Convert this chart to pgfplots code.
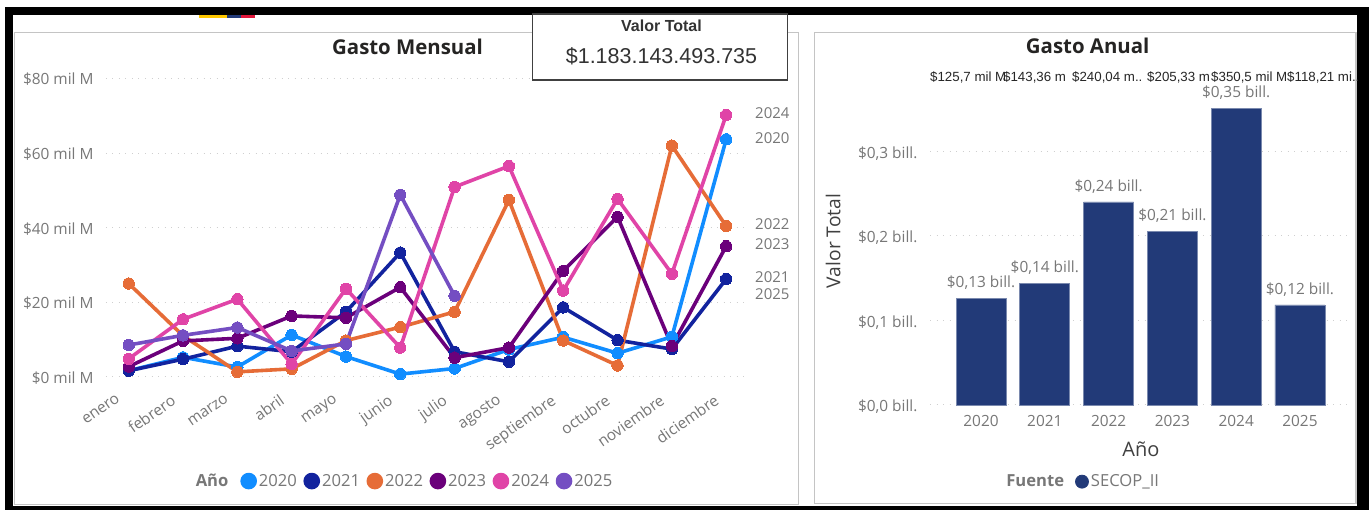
\documentclass[border=0pt]{standalone}
\usepackage{pgfplots}
\pgfplotsset{compat=1.18}
\usepackage{fontspec}
\setmainfont{Open Sans}
\newfontfamily\arial{Liberation Sans}
\definecolor{c20}{HTML}{118DFF}
\definecolor{c21}{HTML}{12239E}
\definecolor{c22}{HTML}{E66C37}
\definecolor{c23}{HTML}{6B007B}
\definecolor{c24}{HTML}{E044A7}
\definecolor{c25}{HTML}{744EC2}
\definecolor{barblue}{HTML}{223A78}
\definecolor{flagy}{HTML}{FFC800}
\definecolor{flagr}{HTML}{E0163A}
\definecolor{ticktxt}{HTML}{777777}
\definecolor{titletxt}{HTML}{252423}
\definecolor{panel}{HTML}{C4C4C4}
\definecolor{griddot}{HTML}{CFCFCF}
\newcommand{\fs}[1]{\fontsize{#1}{#1}\selectfont}
\pgfplotsset{
  pbi/.style={
    scale only axis, clip=false,
    axis line style={draw=none},
    tick style={draw=none},
    major tick length=0pt,
    ymajorgrids,
    grid style={griddot, line width=1pt, dash pattern=on 1pt off 5.5pt},
    tick label style={font=\fs{15.4}, color=ticktxt},
    title style={font=\fs{20.4}\bfseries, color=titletxt, anchor=center},
    legend style={draw=none, fill=none, font=\fs{16.6}, text=ticktxt, legend columns=-1},
  },
  ser/.style={color=#1, line width=3.6pt, line join=round, mark=*, mark size=5.7pt,
    mark options={fill=#1, draw=#1, line width=0pt},
    legend image code/.code={\fill[#1] (0.15cm,0) circle (6.5pt);}},
}
\begin{document}
\begin{tikzpicture}
\useasboundingbox (0pt,0pt) rectangle (1369pt,-510pt);
% screenshot frame
\begin{scope}[x=1pt,y=-1pt]
\fill[white] (0,0) rectangle (1369,510);
\fill[black] (5,7) rectangle (1369,15);
\fill[black] (5,7) rectangle (13,510);
\fill[black] (1357,7) rectangle (1369,510);
\fill[black] (5,506) rectangle (1369,510);
\fill[flagy] (199,15) rectangle (227,18.5);
\fill[barblue] (227,15) rectangle (241,18.5);
\fill[flagr] (241,15) rectangle (255,18.5);
\draw[panel, line width=1.5pt] (14.5,32.5) rectangle (798.5,504.5);
\draw[panel, line width=1.5pt] (814.5,32.5) rectangle (1356,503.5);
\end{scope}

\begin{axis}[pbi,
  at={(106pt,-376.7pt)}, anchor=south west,
  width=643pt, height=298.2pt,
  xmin=-0.418, xmax=11.42, ymin=0, ymax=80,
  ytick={0,20,40,60,80},
  yticklabels={\$0 mil M,\$20 mil M,\$40 mil M,\$60 mil M,\$80 mil M},
  xtick={0,1,2,3,4,5,6,7,8,9,10,11},
  xticklabels={enero,febrero,marzo,abril,mayo,junio,julio,agosto,septiembre,octubre,noviembre,diciembre},
  x tick label style={rotate=35, anchor=north east, xshift=-17pt, yshift=-3pt},
  y tick label style={xshift=-9pt, yshift=-1pt},
  title={Gasto Mensual}, title style={at={(0.469,1.0855)}},
  legend style={at={(0.1315,-0.35)}, anchor=west,
    /tikz/every even column/.append style={column sep=4.5pt}},
]
\addlegendimage{empty legend}
\addlegendentry{\textbf{Año}\hspace*{5.5pt}}
\addplot[ser=c20] coordinates {(0,1.6) (1,5.2) (2,2.6) (3,11.2) (4,5.4) (5,0.7) (6,2.2) (7,7.3) (8,10.6) (9,6.3) (10,10.7) (11,63.7)};
\addlegendentry{2020}
\addplot[ser=c21] coordinates {(0,1.6) (1,4.7) (2,8.2) (3,6.7) (4,17.4) (5,33.3) (6,6.7) (7,4.0) (8,18.6) (9,9.8) (10,7.4) (11,26.2)};
\addlegendentry{2021}
\addplot[ser=c22] coordinates {(0,25) (1,11) (2,1.3) (3,2.1) (4,9.7) (5,13.3) (6,17.4) (7,47.4) (8,9.7) (9,3) (10,62) (11,40.4)};
\addlegendentry{2022}
\addplot[ser=c23] coordinates {(0,2.7) (1,9.6) (2,10.3) (3,16.3) (4,15.8) (5,24) (6,5.1) (7,7.8) (8,28.4) (9,42.9) (10,8.2) (11,35)};
\addlegendentry{2023}
\addplot[ser=c24] coordinates {(0,4.8) (1,15.4) (2,20.8) (3,3.4) (4,23.6) (5,7.8) (6,50.9) (7,56.5) (8,23.1) (9,47.7) (10,27.6) (11,70.2)};
\addlegendentry{2024}
\addplot[ser=c25] coordinates {(0,8.5) (1,11.1) (2,13.2) (3,6.9) (4,8.8) (5,48.8) (6,21.7)};
\addlegendentry{2025}
\end{axis}

% end-of-line year labels and card
\begin{scope}[x=1pt,y=-1pt]
\begin{scope}[every node/.style={anchor=west, inner sep=0pt, font=\fs{15}, text=ticktxt}]
\node at (755,113) {2024};
\node at (755,138) {2020};
\node at (755,224) {2022};
\node at (755,244) {2023};
\node at (755,277) {2021};
\node at (755,294) {2025};
\end{scope}
\draw[fill=white, draw=black!75, line width=1.8pt] (532.5,14) rectangle (787.5,80);
\node[font=\arial\fs{16}\bfseries, text=black!80] at (661.5,25.5) {Valor Total};
\node[font=\arial\fs{21.5}, text=black!80] at (661.5,56) {\$1.183.143.493.735};
\end{scope}

\begin{axis}[pbi,
  at={(930pt,-405pt)}, anchor=south west,
  width=421pt, height=338.4pt,
  xmin=-0.8, xmax=5.8, ymin=0, ymax=0.4,
  ytick={0,0.1,0.2,0.3},
  yticklabels={{\$0,0 bill.},{\$0,1 bill.},{\$0,2 bill.},{\$0,3 bill.}},
  xtick={0,1,2,3,4,5},
  xticklabels={2020,2021,2022,2023,2024,2025},
  y tick label style={xshift=-9pt, yshift=-2pt},
  x tick label style={yshift=-7pt},
  title={Gasto Anual}, title style={at={(0.3745,1.043)}},
  xlabel={Año}, xlabel style={at={(axis description cs:0.501,-0.13)}, anchor=center, font=\fs{20}, color=black!75},
  ylabel={Valor Total}, ylabel style={at={(axis description cs:-0.23,0.4846)}, anchor=center, font=\fs{19.2}, color=black!75},
  legend style={at={(0.169,-0.2265)}, anchor=west,
    /tikz/every even column/.append style={column sep=9pt}},
]
\addlegendimage{empty legend}
\addlegendentry{\textbf{Fuente}}
\addplot[ybar, bar width=50pt, bar shift=0pt, fill=barblue, draw=barblue!60!white, line width=0.8pt,
  legend image code/.code={\fill[barblue] (0.15cm,0) circle (6.5pt);},
  point meta=explicit symbolic, nodes near coords,
  every node near coord/.append style={font=\fs{15.4}, color=ticktxt, anchor=south, yshift=5pt}]
  coordinates {
    (0,0.1257) [{\$0,13 bill.}]
    (1,0.14336) [{\$0,14 bill.}]
    (2,0.24004) [{\$0,24 bill.}]
    (3,0.20533) [{\$0,21 bill.}]
    (4,0.3505) [{\$0,35 bill.}]
    (5,0.11821) [{\$0,12 bill.}]
  };
\addlegendentry{SECOP\_II}
\end{axis}

% overlapping labels kept from the source report
\begin{scope}[x=1pt,y=-1pt,every node/.style={anchor=west, inner sep=0pt, font=\arial\fs{13.3}, text=black!85}]
\node at (930,77) {\$125,7 mil M};
\node at (1003,77) {\$143,36 m};
\node at (1072,77) {\$240,04 m..};
\node at (1147,77) {\$205,33 m};
\node at (1211,77) {\$350,5 mil M};
\node at (1287,77) {\$118,21 mi..};
\end{scope}
\end{tikzpicture}
\end{document}
